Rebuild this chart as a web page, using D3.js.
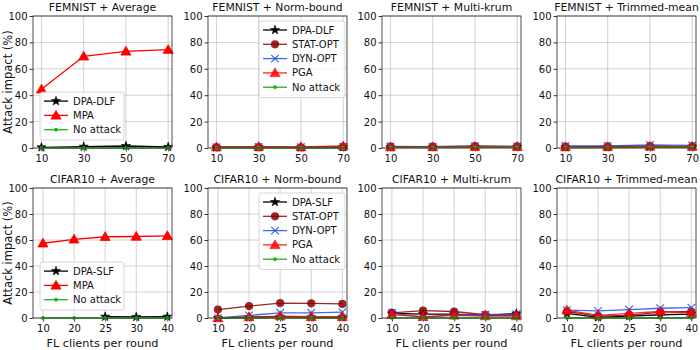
<!DOCTYPE html>
<html><head><meta charset="utf-8">
<script src="https://cdn.jsdelivr.net/npm/d3@7"></script>
<style>body{margin:0;background:#fff}svg{font-family:"DejaVu Sans",sans-serif}</style>
</head><body><svg id="c" width="700" height="350"></svg>
<script>
// ---------- data ----------
const xFemnist = [10, 30, 50, 70];
const xCifar = [10, 20, 25, 30, 40];
const yTicks = [0, 20, 40, 60, 80, 100];

const femAvgDPA = [0.5, 1.0, 1.5, 0.8];
const femAvgMPA = [44.5, 69.5, 73.2, 74.5];
const femAvgNo = [0, 0, 0, 0];

const femNbDPA = [0.4, 0.5, 0.4, 0.6];
const femNbSTAT = [0.5, 0.6, 0.5, 0.8];
const femNbDYN = [0.6, 0.7, 0.6, 0.9];
const femNbPGA = [0.8, 1.0, 0.8, 1.5];
const femNbNo = [0, 0, 0, 0];

const femMkDPA = [0.5, 0.6, 0.8, 0.9];
const femMkSTAT = [1.0, 1.0, 1.5, 1.2];
const femMkDYN = [1.2, 1.0, 1.3, 1.2];
const femMkPGA = [0.8, 0.8, 1.0, 1.0];
const femMkNo = [0.3, 0.3, 0.4, 0.4];

const femTmDPA = [0.5, 0.6, 0.8, 0.8];
const femTmSTAT = [1.0, 1.2, 1.5, 1.3];
const femTmDYN = [1.5, 1.6, 2.3, 2.0];
const femTmPGA = [0.8, 0.9, 1.2, 1.1];
const femTmNo = [0.3, 0.3, 0.4, 0.4];

const cifAvgDPA = [null, null, 1.0, 0.8, 1.0];
const cifAvgMPA = [57.5, 60.5, 62.5, 62.7, 63.2];
const cifAvgNo = [0, 0, 0, 0, 0];

const cifNbDPA = [0, 0.5, 1.0, 0.5, 0.5];
const cifNbSTAT = [6.5, 9.2, 11.5, 11.3, 10.8];
const cifNbDYN = [0, 2.0, 4.0, 4.0, 4.5];
const cifNbPGA = [0, 0.8, 1.5, 1.0, 1.0];
const cifNbNo = [0, 0, 0, 0, 0];

const cifMkDPA = [3.5, 3.0, 3.0, 2.0, 3.5];
const cifMkSTAT = [4.0, 5.7, 5.0, 2.5, 2.0];
const cifMkDYN = [4.0, 0.5, 2.5, 2.5, 3.0];
const cifMkPGA = [2.5, 1.0, 2.0, 1.5, 1.5];
const cifMkNo = [0, 0, 0, 0, 0];

const cifTmDPA = [3.5, 0.5, 1.5, 2.5, 3.0];
const cifTmSTAT = [5.0, 1.5, 2.0, 4.5, 5.0];
const cifTmDYN = [6.0, 5.5, 6.5, 7.5, 8.0];
const cifTmPGA = [6.0, 2.0, 3.5, 5.0, 4.0];
const cifTmNo = [0, 0, 0, 0, 0];

// ---------- styles ----------
const ST = {
  DPA:  {color:"#000000", marker:"star", alpha:1},
  MPA:  {color:"#ff0000", marker:"triangle", alpha:1},
  STAT: {color:"#8b0000", marker:"circle", alpha:0.85},
  DYN:  {color:"#1f4fe6", marker:"x", alpha:0.85},
  PGA:  {color:"#ff0000", marker:"triangle", alpha:0.85},
  No:   {color:"#22b022", marker:"dot", alpha:1}
};

function S(key, label, vals){ return {key, label, vals}; }

const panels = [
  {row:0,col:0,title:"FEMNIST + Average",x:xFemnist,dom:[-0.2,3.09],legend:"ll",
   series:[S("DPA","DPA-DLF",femAvgDPA),S("MPA","MPA",femAvgMPA),S("No","No attack",femAvgNo)]},
  {row:0,col:1,title:"FEMNIST + Norm-bound",x:xFemnist,dom:[-0.2,3.09],legend:"ur",
   series:[S("DPA","DPA-DLF",femNbDPA),S("STAT","STAT-OPT",femNbSTAT),S("DYN","DYN-OPT",femNbDYN),S("PGA","PGA",femNbPGA),S("No","No attack",femNbNo)]},
  {row:0,col:2,title:"FEMNIST + Multi-krum",x:xFemnist,dom:[-0.2,3.09],legend:null,
   series:[S("DPA","DPA-DLF",femMkDPA),S("STAT","STAT-OPT",femMkSTAT),S("DYN","DYN-OPT",femMkDYN),S("PGA","PGA",femMkPGA),S("No","No attack",femMkNo)]},
  {row:0,col:3,title:"FEMNIST + Trimmed-mean",x:xFemnist,dom:[-0.2,3.09],legend:null,
   series:[S("DPA","DPA-DLF",femTmDPA),S("STAT","STAT-OPT",femTmSTAT),S("DYN","DYN-OPT",femTmDYN),S("PGA","PGA",femTmPGA),S("No","No attack",femTmNo)]},
  {row:1,col:0,title:"CIFAR10 + Average",x:xCifar,dom:[-0.32,4.15],legend:"ll",
   series:[S("DPA","DPA-SLF",cifAvgDPA),S("MPA","MPA",cifAvgMPA),S("No","No attack",cifAvgNo)]},
  {row:1,col:1,title:"CIFAR10 + Norm-bound",x:xCifar,dom:[-0.32,4.15],legend:"ur",
   series:[S("DPA","DPA-SLF",cifNbDPA),S("STAT","STAT-OPT",cifNbSTAT),S("DYN","DYN-OPT",cifNbDYN),S("PGA","PGA",cifNbPGA),S("No","No attack",cifNbNo)]},
  {row:1,col:2,title:"CIFAR10 + Multi-krum",x:xCifar,dom:[-0.32,4.15],legend:null,
   series:[S("DPA","DPA-SLF",cifMkDPA),S("STAT","STAT-OPT",cifMkSTAT),S("DYN","DYN-OPT",cifMkDYN),S("PGA","PGA",cifMkPGA),S("No","No attack",cifMkNo)]},
  {row:1,col:3,title:"CIFAR10 + Trimmed-mean",x:xCifar,dom:[-0.32,4.15],legend:null,
   series:[S("DPA","DPA-SLF",cifTmDPA),S("STAT","STAT-OPT",cifTmSTAT),S("DYN","DYN-OPT",cifTmDYN),S("PGA","PGA",cifTmPGA),S("No","No attack",cifTmNo)]}
];

// ---------- layout ----------
const colLeft = [33, 208, 382, 557];
const W = 139;
const rowTop = [16, 188];
const H = [132, 130];

const svg = d3.select("#c");

function drawMarker(g, type, color, alpha){
  if(type==="star"){
    g.append("path").attr("d", d3.symbol(d3.symbolStar, 26)())
     .attr("fill", color).attr("stroke", color).attr("stroke-width",0.6).attr("opacity",alpha);
  } else if(type==="triangle"){
    g.append("path").attr("d", d3.symbol(d3.symbolTriangle, 44)())
     .attr("transform","translate(0,0.8)")
     .attr("fill", color).attr("stroke", color).attr("stroke-width",0.8).attr("opacity",alpha);
  } else if(type==="circle"){
    g.append("circle").attr("r",4.1).attr("fill",color).attr("opacity",alpha);
  } else if(type==="x"){
    const r=3.8;
    g.append("path").attr("d",`M${-r},${-r}L${r},${r}M${-r},${r}L${r},${-r}`)
     .attr("stroke",color).attr("stroke-width",1.2).attr("fill","none").attr("opacity",alpha);
  } else if(type==="dot"){
    g.append("circle").attr("r",1.9).attr("fill",color).attr("opacity",alpha);
  }
}

panels.forEach(p=>{
  const x0 = colLeft[p.col], y0 = rowTop[p.row], h = H[p.row];
  const g = svg.append("g").attr("transform",`translate(${x0},${y0})`);
  const idx = p.x.map((d,i)=>i);
  const xs = d3.scaleLinear().domain(p.dom).range([0,W]);
  const ys = d3.scaleLinear().domain([0,100]).range([h,0]);

  // grid
  g.append("g").selectAll("line").data(idx).join("line")
    .attr("x1",d=>xs(d)).attr("x2",d=>xs(d)).attr("y1",0).attr("y2",h)
    .attr("stroke","#b0b0b0").attr("stroke-width",0.8).attr("opacity",0.7);
  g.append("g").selectAll("line").data(yTicks).join("line")
    .attr("x1",0).attr("x2",W).attr("y1",d=>ys(d)).attr("y2",d=>ys(d))
    .attr("stroke","#b0b0b0").attr("stroke-width",0.8).attr("opacity",0.7);

  // axes
  const xa = g.append("g").attr("transform",`translate(0,${h})`)
    .call(d3.axisBottom(xs).tickValues(idx).tickFormat(i=>p.x[i]).tickSize(3.5).tickPadding(3));
  const ya = g.append("g").call(d3.axisLeft(ys).tickValues(yTicks).tickSize(3.5).tickPadding(2));
  [xa,ya].forEach(a=>{
    a.attr("font-family",null);
    a.select(".domain").remove();
    a.selectAll("text").attr("font-size",10).attr("fill","#111").attr("font-family","DejaVu Sans");
    a.selectAll("line").attr("stroke","#000").attr("stroke-width",0.8);
  });
  ya.selectAll("text").attr("dy","0.34em");
  xa.selectAll("text").attr("dy","0.75em");

  // series
  p.series.forEach(s=>{
    const st = ST[s.key];
    const pts = s.vals.map((v,i)=>({i,v}));
    const line = d3.line().defined(d=>d.v!==null).x(d=>xs(d.i)).y(d=>ys(d.v));
    g.append("path").datum(pts).attr("d",line).attr("fill","none")
      .attr("stroke",st.color).attr("stroke-width",1.3).attr("opacity",st.alpha);
    pts.filter(d=>d.v!==null).forEach(d=>{
      const m = g.append("g").attr("transform",`translate(${xs(d.i)},${ys(d.v)})`);
      drawMarker(m, st.marker, st.color, st.alpha);
    });
  });

  // frame
  g.append("rect").attr("x",0).attr("y",0).attr("width",W).attr("height",h)
    .attr("fill","none").attr("stroke","#222").attr("stroke-width",0.8);

  // title
  g.append("text").attr("x",W/2).attr("y",-5.5).attr("text-anchor","middle")
    .attr("font-size",10.8).attr("fill","#111").text(p.title);

  if(p.col===0){
    g.append("text").attr("transform",`translate(-21,${h/2}) rotate(-90)`)
      .attr("text-anchor","middle").attr("font-size",11.5).attr("fill","#111").text("Attack impact (%)");
  }
  if(p.row===1){
    g.append("text").attr("x",W/2).attr("y",h+28.5).attr("text-anchor","middle")
      .attr("font-size",11.3).attr("fill","#111").text("FL clients per round");
  }

  // legend
  if(p.legend){
    const n = p.series.length, rowH = 14.3;
    const lw = p.legend==="ll" ? 84 : 86;
    const lh = n*rowH + 5;
    const lx = p.legend==="ll" ? 7 : W - lw - 2;
    const ly = p.legend==="ll" ? h - lh - 8 : 5;
    const lg = g.append("g").attr("transform",`translate(${lx},${ly})`);
    lg.append("rect").attr("width",lw).attr("height",lh).attr("rx",2.5)
      .attr("fill","#fff").attr("fill-opacity",0.8).attr("stroke","#cccccc").attr("stroke-width",0.8);
    p.series.forEach((s,k)=>{
      const st = ST[s.key];
      const yy = 9 + k*rowH;
      lg.append("line").attr("x1",4).attr("x2",28).attr("y1",yy).attr("y2",yy)
        .attr("stroke",st.color).attr("stroke-width",1.3).attr("opacity",st.alpha);
      const m = lg.append("g").attr("transform",`translate(16,${yy})`);
      drawMarker(m, st.marker, st.color, st.alpha);
      lg.append("text").attr("x",33).attr("y",yy).attr("dy","0.35em")
        .attr("font-size",10).attr("fill","#111").text(s.label);
    });
  }
});
</script></body></html>
